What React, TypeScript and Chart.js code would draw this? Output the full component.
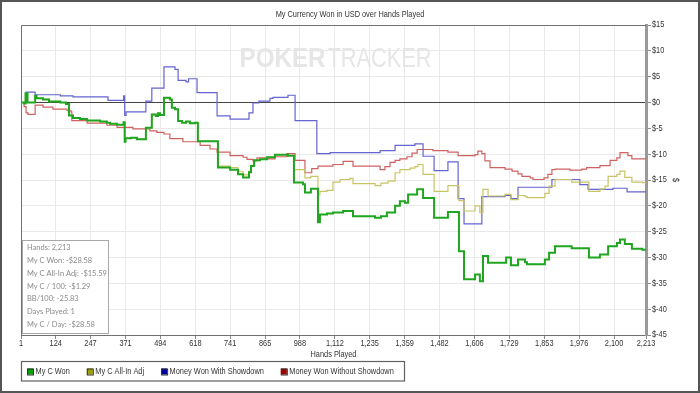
import React, { useEffect, useRef } from "react";
import { Chart, registerables } from "chart.js";

Chart.register(...registerables);

// ---------------- data ----------------
const chartTitle = "My Currency Won in USD over Hands Played";
const xAxisTitle = "Hands Played";
const yAxisTitle = "$";
const watermarkBold = "POKER";
const watermarkLight = "TRACKER";

const handTicks = [1, 124, 247, 371, 494, 618, 741, 865, 988, 1112, 1235, 1359, 1482, 1606, 1729, 1853, 1976, 2100, 2213];
const handMin = 1;
const handMax = 2213;
const dollarMin = -45;
const dollarMax = 15;
const dollarStep = 5;

const seriesLabels = ["My C Won", "My C All-In Adj", "Money Won With Showdown", "Money Won Without Showdown"];

// [hand, cumulative USD] — the value starts at that hand
const myCWon: [number, number][] = [
  [1, 0], [12, -0.2], [17, 1.8], [24, 0], [51, 1.3], [56, 0.8], [79, 0.6], [100, 0.2], [140, 0], [160, -0.3],
  [171, -2.5], [185, -3.0], [210, -3.2], [235, -3.5], [281, -3.7], [305, -3.9], [316, -4.1], [341, -4.3], [364, -3.8],
  [368, -7.6], [371, -6.9], [390, -6.8], [411, -7.1], [443, -4.9], [464, -2.3], [478, -2.6], [486, -2.1], [493, -2.4],
  [507, 0.9], [528, 0.6], [535, -1.0], [546, -1.3], [557, -3.6], [571, -3.9], [585, -3.7], [599, -4.0], [617, -3.9],
  [627, -7.5], [698, -12.6], [741, -13.0], [769, -13.9], [787, -14.5], [808, -13.5], [815, -12.3], [826, -11.2],
  [847, -11.0], [872, -10.6], [900, -10.1], [946, -10.3], [967, -15.5], [999, -15.8], [1006, -17.4], [1027, -16.7],
  [1052, -23.2], [1059, -21.7], [1084, -21.5], [1105, -21.3], [1141, -21.0], [1176, -22.0], [1254, -22.3], [1275, -22.0],
  [1296, -21.3], [1325, -20.0], [1342, -19.1], [1360, -19.4], [1371, -17.8], [1403, -16.8], [1424, -18.5], [1463, -22.3],
  [1512, -21.2], [1551, -28.8], [1569, -34.2], [1608, -33.3], [1625, -34.6], [1636, -29.7], [1654, -31.0], [1718, -30.0],
  [1735, -31.5], [1760, -30.4], [1785, -30.9], [1792, -31.3], [1855, -30.4], [1870, -29.1], [1891, -27.8], [1950, -28.2],
  [2011, -30.0], [2050, -29.4], [2079, -27.8], [2110, -27.2], [2121, -26.5], [2138, -27.4], [2163, -28.3], [2200, -28.5],
  [2213, -28.58],
];

const myCAllInAdj: [number, number][] = [
  [1, 0], [12, -0.2], [17, 1.8], [24, 0], [51, 1.3], [56, 0.8], [79, 0.6], [100, 0.2], [140, 0], [160, -0.3],
  [171, -2.5], [185, -3.0], [210, -3.2], [235, -3.5], [281, -3.7], [305, -3.9], [316, -4.1], [341, -4.3], [364, -3.8],
  [368, -7.6], [371, -6.9], [390, -6.8], [411, -7.1], [443, -4.9], [464, -2.3], [478, -2.6], [486, -2.1], [493, -2.4],
  [507, 0.9], [528, 0.6], [535, -1.0], [546, -1.3], [557, -3.6], [571, -3.9], [585, -3.7], [599, -4.0], [617, -3.9],
  [627, -7.5], [698, -12.3], [741, -12.6], [769, -13.4], [787, -14.0], [808, -13.3], [815, -12.3], [826, -11.2],
  [847, -11.0], [872, -10.6], [900, -10.1], [946, -10.3], [967, -13.0], [1006, -14.6], [1027, -14.3], [1052, -17.8],
  [1059, -17.2], [1084, -17.0], [1105, -15.4], [1130, -14.9], [1165, -14.7], [1176, -15.7], [1254, -16.1], [1275, -15.6],
  [1300, -15.2], [1325, -13.6], [1342, -13.0], [1378, -12.7], [1395, -12.4], [1406, -12.0], [1424, -13.9], [1463, -17.2],
  [1512, -16.1], [1551, -19.0], [1569, -21.0], [1608, -20.0], [1625, -21.3], [1636, -16.8], [1654, -18.1], [1714, -17.8],
  [1735, -18.8], [1760, -18.0], [1785, -18.2], [1792, -18.4], [1855, -17.6], [1870, -16.2], [1891, -14.9], [1950, -15.4],
  [2011, -17.2], [2050, -16.7], [2068, -16.2], [2079, -14.3], [2110, -13.9], [2121, -13.3], [2138, -14.5], [2163, -15.4],
  [2200, -15.5], [2213, -15.59],
];

const wonWithShowdown: [number, number][] = [
  [1, 0], [19, 2.0], [51, 1.5], [140, 1.3], [185, 1.1], [309, 0.4], [364, 1.3], [368, -2.5], [373, -1.8], [443, 0.25],
  [464, 2.8], [507, 6.9], [546, 6.4], [557, 4.3], [585, 4.0], [594, 4.6], [624, 1.9], [695, -2.6], [741, -3.2],
  [808, -2.0], [822, -0.1], [843, 0.25], [882, 0.8], [893, 1.0], [946, 1.4], [971, -3.5], [1048, -9.9], [1095, -9.7],
  [1272, -9.3], [1325, -8.3], [1395, -8.0], [1424, -10.4], [1463, -13.2], [1512, -11.5], [1548, -18.6], [1569, -23.5],
  [1632, -18.2], [1714, -18.0], [1735, -18.6], [1760, -16.4], [1880, -14.9], [1979, -15.9], [2008, -16.8], [2096, -16.6],
  [2146, -17.3], [2213, -17.3],
];

const wonWithoutShowdown: [number, number][] = [
  [1, 0], [12, -0.8], [19, -2.0], [26, -2.3], [51, -0.5], [79, -0.9], [114, -1.3], [164, -1.6], [178, -1.8], [181, -3.5],
  [235, -4.0], [305, -4.4], [341, -4.8], [397, -5.1], [457, -5.5], [482, -5.8], [507, -6.1], [528, -7.0], [574, -7.6],
  [635, -8.3], [670, -9.0], [695, -9.6], [741, -10.3], [787, -10.6], [801, -11.0], [822, -11.3], [836, -10.7],
  [872, -10.9], [900, -10.5], [942, -9.9], [971, -11.2], [1006, -13.6], [1030, -12.8], [1052, -12.3], [1105, -12.0],
  [1141, -11.4], [1176, -12.3], [1272, -13.0], [1289, -12.4], [1307, -11.6], [1325, -11.2], [1342, -10.9], [1367, -10.5],
  [1385, -9.8], [1403, -9.1], [1459, -9.3], [1512, -9.6], [1548, -10.3], [1608, -10.1], [1618, -9.4], [1632, -9.9],
  [1643, -11.3], [1661, -12.6], [1714, -12.9], [1739, -13.3], [1760, -13.8], [1774, -14.3], [1803, -14.6], [1813, -14.9],
  [1852, -14.6], [1866, -13.9], [1880, -13.0], [1891, -12.9], [1944, -13.1], [1986, -12.9], [2003, -12.6], [2050, -12.2],
  [2086, -11.2], [2110, -10.7], [2121, -9.7], [2149, -10.3], [2163, -10.9], [2213, -11.0],
];

const statsLines = [
  "Hands: 2,213",
  "My C Won: -$28.58",
  "My C All-In Adj: -$15.59",
  "My C / 100: -$1.29",
  "BB/100: -25.83",
  "Days Played: 1",
  "My C / Day: -$28.58",
];

// ---------------- styles ----------------
const lineColors = ["#1fa51f", "#c9c463", "#6464d2", "#cf6161"];
const lineWidths = [2, 1.2, 1.2, 1.2];
const legendColors = ["#00a000", "#a0a000", "#0000a0", "#a00000"];
const SANS = '"Liberation Sans", Arial, sans-serif';
const STATS_FONT = 'Lato, "Noto Sans", sans-serif';
const NARROW_K = 0.82;
const TEXT = "#333333";

// draws text horizontally condensed (emulates a narrow face)
function narrowText(ctx: CanvasRenderingContext2D, text: string, x: number, y: number, size: number, align: string, k = NARROW_K, family = SANS) {
  ctx.save();
  ctx.font = `${size}px ${family}`;
  const w = ctx.measureText(text).width * k;
  let left = x;
  if (align === "center") left = x - w / 2;
  else if (align === "right") left = x - w;
  ctx.translate(left, y);
  ctx.scale(k, 1);
  ctx.textAlign = "left";
  ctx.fillText(text, 0, 0);
  ctx.restore();
  return w;
}

const decorPlugin = {
  id: "decor",
  beforeDraw(chart: any) {
    const { ctx, width, height } = chart;
    ctx.save();
    ctx.fillStyle = "#ffffff";
    ctx.fillRect(0, 0, width, height);
    ctx.restore();
  },
  beforeDatasetsDraw(chart: any) {
    const { ctx, chartArea } = chart;
    const cx = (chartArea.left + chartArea.right) / 2;
    const base = chartArea.top + 42;
    ctx.save();
    ctx.fillStyle = "#e6e6e6";
    ctx.textBaseline = "alphabetic";
    ctx.textAlign = "left";
    const wBold = 86;
    const wLight = 104;
    const gap = 2;
    const x0 = cx + 2 - (wBold + gap + wLight) / 2;
    ctx.font = `bold 28px ${SANS}`;
    let m = ctx.measureText(watermarkBold).width;
    ctx.save();
    ctx.translate(x0, base);
    ctx.scale(wBold / m, 1);
    ctx.fillText(watermarkBold, 0, 0);
    ctx.restore();
    ctx.font = `28px ${SANS}`;
    m = ctx.measureText(watermarkLight).width;
    ctx.save();
    ctx.translate(x0 + wBold + gap, base);
    ctx.scale(wLight / m, 1);
    ctx.fillText(watermarkLight, 0, 0);
    ctx.restore();
    ctx.restore();
  },
  afterDraw(chart: any) {
    const { ctx, chartArea, width, height } = chart;
    const xs = chart.scales.x;
    const ys = chart.scales.y;
    ctx.save();
    // plot frame left/top
    ctx.strokeStyle = "#707070";
    ctx.lineWidth = 1;
    ctx.beginPath();
    ctx.moveTo(chartArea.left + 0.5, chartArea.bottom);
    ctx.lineTo(chartArea.left + 0.5, chartArea.top + 0.5);
    ctx.lineTo(chartArea.right, chartArea.top + 0.5);
    ctx.stroke();

    ctx.fillStyle = TEXT;
    ctx.textBaseline = "middle";
    // title
    narrowText(ctx, chartTitle, width / 2, 15, 9, "center");

    // tick labels (from the scales' ticks)
    xs.ticks.forEach((t: any) => {
      narrowText(ctx, t.label, xs.getPixelForValue(t.value), 344, 9, "center");
    });
    ys.ticks.forEach((t: any) => {
      narrowText(ctx, t.label, chartArea.right + 6, ys.getPixelForValue(t.value), 9, "left");
    });
    // axis titles
    narrowText(ctx, xAxisTitle, (chartArea.left + chartArea.right) / 2, 355, 9, "center");
    ctx.save();
    ctx.translate(675, (chartArea.top + chartArea.bottom) / 2);
    ctx.rotate(Math.PI / 2);
    narrowText(ctx, yAxisTitle, 0, 0, 9, "center");
    ctx.restore();

    // stats box
    const sx = 22.5, sy = 240.5, sw = 86, sh = 93;
    ctx.fillStyle = "#ffffff";
    ctx.fillRect(sx, sy, sw, sh);
    ctx.strokeStyle = "#a8a8a8";
    ctx.strokeRect(sx, sy, sw, sh);
    ctx.fillStyle = "#8a8a8a";
    statsLines.forEach((t, i) => narrowText(ctx, t, 27, 247.5 + i * 12.8, 8.3, "left", 0.9, STATS_FONT));

    // legend
    ctx.strokeStyle = "#606060";
    ctx.lineWidth = 1.2;
    ctx.strokeRect(21.5, 361.5, 383, 19.5);
    let x = 27;
    chart.data.datasets.forEach((ds: any, i: number) => {
      ctx.fillStyle = legendColors[i];
      ctx.fillRect(x, 368.5, 6, 6);
      ctx.strokeStyle = "#333";
      ctx.lineWidth = 1;
      ctx.strokeRect(x + 0.5, 368.5 + 0.5, 6, 6);
      ctx.fillStyle = TEXT;
      const w = narrowText(ctx, ds.label, x + 8.5, 372, 9, "left");
      x += 8.5 + w + 17;
    });

    // outer border
    ctx.strokeStyle = "#555";
    ctx.lineWidth = 2;
    ctx.strokeRect(1, 1, width - 2, height - 2);
    ctx.restore();
  },
};

export default function App() {
  const ref = useRef<HTMLCanvasElement>(null);
  useEffect(() => {
    document.body.style.margin = "0";
    const series = [myCWon, myCAllInAdj, wonWithShowdown, wonWithoutShowdown];
    const chart = new Chart(ref.current as HTMLCanvasElement, {
      type: "line",
      data: {
        datasets: series.map((s, i) => ({
          label: seriesLabels[i],
          data: s.map(([x, y]) => ({ x, y })),
          borderColor: lineColors[i],
          borderWidth: lineWidths[i],
          pointRadius: 0,
          fill: false,
          stepped: "before" as const,
          tension: 0,
        })),
      },
      options: {
        animation: false,
        responsive: false,
        devicePixelRatio: 1,
        layout: { padding: { left: 21, top: 25, right: 0, bottom: 28 } },
        plugins: { legend: { display: false }, title: { display: false }, tooltip: { enabled: false } },
        scales: {
          x: {
            type: "linear",
            min: handMin,
            max: handMax,
            afterBuildTicks: (s: any) => {
              s.ticks = handTicks.map((v) => ({ value: v }));
            },
            afterFit: (s: any) => {
              s.height = 30;
            },
            ticks: {
              autoSkip: false,
              maxRotation: 0,
              minRotation: 0,
              padding: 1,
              color: "rgba(0,0,0,0)",
              font: { family: SANS, size: 7.5 },
              callback: (v: any) => Number(v).toLocaleString("en-US"),
            },
            grid: { color: "#e9e9e9", tickLength: 4, tickColor: "#8a8a8a" },
            border: { display: true, color: "#707070" },
            title: { display: false, text: xAxisTitle },
          },
          y: {
            position: "right",
            min: dollarMin,
            max: dollarMax,
            afterFit: (s: any) => {
              s.width = 54;
            },
            ticks: {
              stepSize: dollarStep,
              padding: 2,
              color: "rgba(0,0,0,0)",
              font: { family: SANS, size: 7.5 },
              callback: (v: any) => "$" + v,
            },
            grid: {
              color: (c: any) => (c.tick && c.tick.value === 0 ? "#444444" : "#e9e9e9"),
              tickLength: 5,
              tickColor: "#8a8a8a",
            },
            border: { display: true, color: "#999999", width: 3 },
            title: { display: false, text: yAxisTitle },
          },
        },
      },
      plugins: [decorPlugin],
    } as any);
    return () => chart.destroy();
  }, []);
  return <canvas ref={ref} width={700} height={393} style={{ display: "block" }} />;
}
